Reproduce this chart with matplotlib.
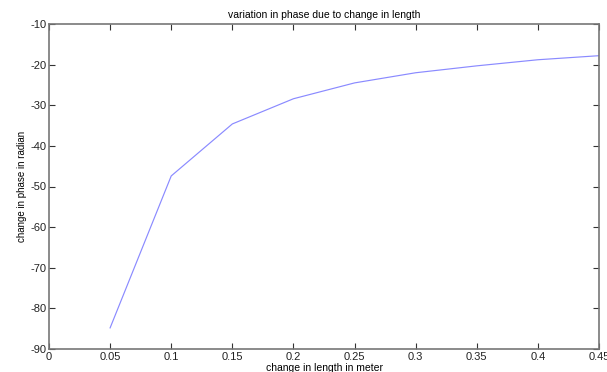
import matplotlib
matplotlib.use("Agg")
import matplotlib.pyplot as plt

length = [0.05, 0.10, 0.15, 0.20, 0.25, 0.30, 0.35, 0.40, 0.45]
phase = [-84.8, -47.4, -34.6, -28.4, -24.5, -22.0, -20.3, -18.8, -17.8]
xticks = [0, 0.05, 0.1, 0.15, 0.2, 0.25, 0.3, 0.35, 0.4, 0.45]
xticklabels = ["0", "0.05", "0.1", "0.15", "0.2", "0.25", "0.3", "0.35", "0.4", "0.45"]
yticks = [-90, -80, -70, -60, -50, -40, -30, -20, -10]

plt.rcParams['font.family'] = ['Liberation Sans', 'DejaVu Sans']
plt.rcParams['axes.unicode_minus'] = False
fig = plt.figure(figsize=(6.07, 3.72), dpi=100)
ax = fig.add_axes([49/607, 1-349/372, 550/607, 325/372])
ax.plot(length, phase, color="#8a8aff", lw=0.85)
ax.set_xlim(0, 0.45)
ax.set_ylim(-90, -10)
ax.set_xticks(xticks)
ax.set_xticklabels(xticklabels)
ax.set_yticks(yticks)
ax.tick_params(direction="in", top=True, right=True, length=4, width=0.8,
               labelsize=8, color="#333333", labelcolor="#222222", pad=2)
for s in ax.spines.values():
    s.set_color("#777777")
    s.set_linewidth(1.2)
ax.set_title("variation in phase due to change in length", fontsize=7.5, pad=4)
ax.set_xlabel("change in length in meter", fontsize=7.5, labelpad=1)
ax.set_ylabel("change in phase in radian", fontsize=7, labelpad=2)
fig.savefig("out.png", dpi=100)
